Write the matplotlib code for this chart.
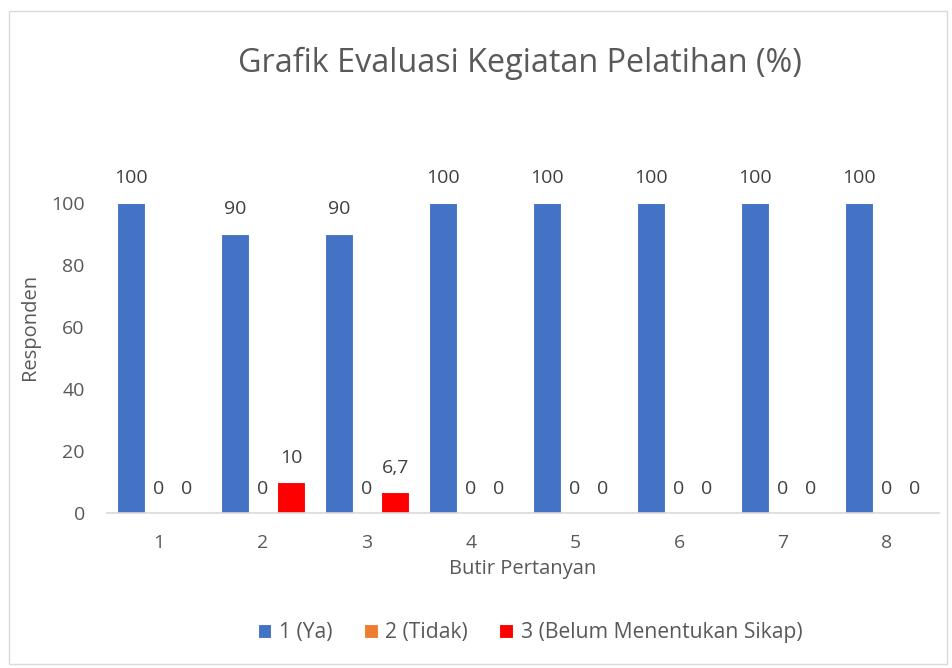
import matplotlib
matplotlib.use("Agg")
import matplotlib.pyplot as plt
import numpy as np
from matplotlib.patches import Rectangle

categories = ["1", "2", "3", "4", "5", "6", "7", "8"]
ya = [100, 90, 90, 100, 100, 100, 100, 100]
tidak = [0, 0, 0, 0, 0, 0, 0, 0]
belum = [0, 10, 6.7, 0, 0, 0, 0, 0]
series_names = ["1 (Ya)", "2 (Tidak)", "3 (Belum Menentukan Sikap)"]
colors = ["#4472C4", "#ED7D31", "#FF0000"]

plt.rcParams['font.family'] = ['Open Sans', 'DejaVu Sans']
txt = "#595959"

fig = plt.figure(figsize=(9.53, 6.68), dpi=100)
ax = fig.add_axes([0.1123, 0.232, 0.873, 0.557])

x = np.arange(len(categories))
w = 0.27
series = [ya, tidak, belum]
for i, (vals, name, c) in enumerate(zip(series, series_names, colors)):
    pos = x + (i - 1) * w
    ax.bar(pos, vals, width=w, color=c, edgecolor="white", linewidth=0.8, label=name)
    for p, v in zip(pos, vals):
        lab = ("%g" % v).replace(".", ",")
        ax.text(p, v + 5.0, lab, ha="center", va="bottom", fontsize=14, color="#404040")

ax.set_xlim(-0.5, len(categories) - 0.5)
ax.set_ylim(0, 120)
ax.set_yticks([0, 20, 40, 60, 80, 100])
ax.set_xticks(x)
ax.set_xticklabels(categories)
ax.tick_params(axis="both", length=0, labelsize=14, colors=txt)
ax.tick_params(axis="x", pad=15)
ax.tick_params(axis="y", pad=16)
for s in ["top", "right", "left"]:
    ax.spines[s].set_visible(False)
ax.spines["bottom"].set_color("#D9D9D9")
ax.spines["bottom"].set_linewidth(1.2)

ax.set_xlabel("Butir Pertanyan", fontsize=14.5, color=txt, labelpad=5)
ax.set_ylabel("Responden", fontsize=14.5, color=txt, labelpad=8)

fig.text(0.546, 0.905, "Grafik Evaluasi Kegiatan Pelatihan (%)", ha="center", va="center",
         fontsize=23.3, color=txt)

leg = fig.legend(loc="center", bbox_to_anchor=(0.556, 0.053), ncol=3, frameon=False,
                 fontsize=15.2, handlelength=0.65, handleheight=0.65, columnspacing=1.5,
                 handletextpad=0.35)
for t in leg.get_texts():
    t.set_color(txt)

fig.patches.append(Rectangle((0.009, 0.006), 0.985, 0.978, transform=fig.transFigure,
                             fill=False, edgecolor="#D9D9D9", linewidth=1.0))

fig.savefig("out.png", dpi=100)
